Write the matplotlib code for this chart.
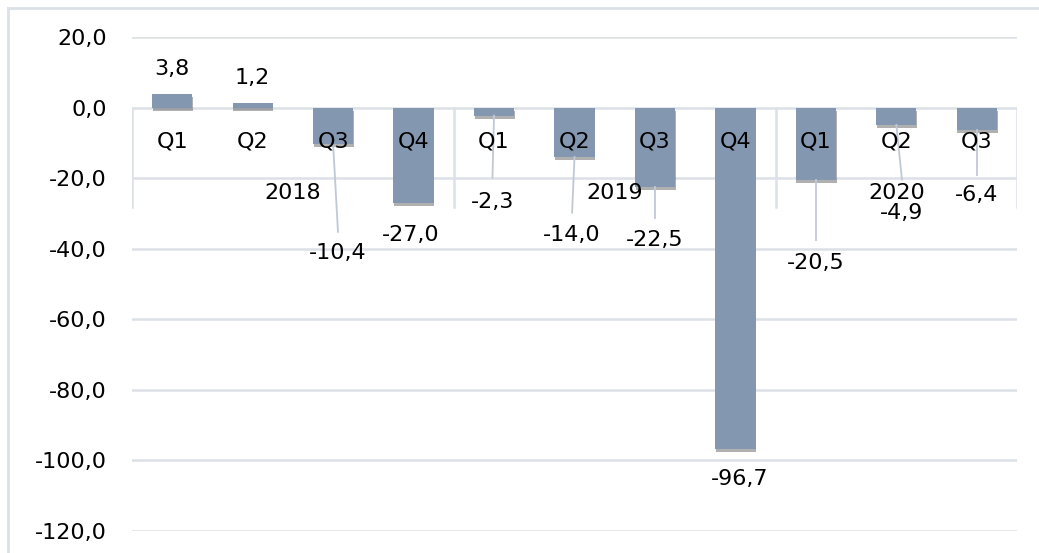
import matplotlib
matplotlib.use("Agg")
import matplotlib.pyplot as plt
import matplotlib.patheffects as pe
from matplotlib.lines import Line2D
from matplotlib.ticker import FuncFormatter, MultipleLocator

# ---- data ----
quarters = ["Q1", "Q2", "Q3", "Q4", "Q1", "Q2", "Q3", "Q4", "Q1", "Q2", "Q3"]
years = ["2018", "2019", "2020"]
year_sizes = [4, 4, 3]
values = [3.8, 1.2, -10.4, -27.0, -2.3, -14.0, -22.5, -96.7, -20.5, -4.9, -6.4]

# ---- label layout (positions of value labels; style only) ----
label_dx = [0.0, 0.0, 0.06, -0.03, -0.02, -0.03, 0.0, 0.05, 0.0, 0.07, 0.0]
label_y = [10.8, 8.5, -41.1, -36.0, -26.7, -36.0, -37.4, -105.2, -44.0, -29.8, -24.7]
leader_end = [None, None, -35.2, None, -19.9, -29.8, -31.2, None, -37.4, -20.4, -19.0]

BAR = "#8497B0"
GRID = "#DCE1E8"
LEAD = "#BFC9D6"
FS = 16
plt.rcParams["font.family"] = ["DejaVu Sans"]

fig = plt.figure(figsize=(10.39, 5.53), dpi=100)
ax = fig.add_axes([132 / 1039, 1 - 531 / 553, (1017 - 132) / 1039, (531 - 37) / 553])

# outer border (top and left edges visible)
W, H = 1039, 553
fig.add_artist(Line2D([8 / W, 1.0], [1 - 7.5 / H, 1 - 7.5 / H], transform=fig.transFigure,
                      color=GRID, lw=2))
fig.add_artist(Line2D([8 / W, 8 / W], [0, 1 - 7.5 / H], transform=fig.transFigure,
                      color=GRID, lw=2))

x = list(range(len(values)))
bars = ax.bar(x, values, width=0.5, color=BAR, zorder=3)
for b in bars:
    b.set_path_effects([pe.SimplePatchShadow(offset=(0.5, -2.2), shadow_rgbFace="#3a3a3a", alpha=0.4),
                        pe.Normal()])

ax.set_xlim(-0.5, len(values) - 0.5)
ax.set_ylim(-120, 20)
ax.yaxis.set_major_locator(MultipleLocator(20))
ax.yaxis.set_major_formatter(FuncFormatter(lambda v, p: f"{v:.1f}".replace(".", ",")))
ax.grid(axis="y", color=GRID, lw=1.8, zorder=0)
ax.set_axisbelow(True)
for s in ax.spines.values():
    s.set_visible(False)
ax.tick_params(axis="y", length=0, labelsize=FS, pad=18, colors="black")
ax.set_xticks([])

# category axis: quarter labels, group separators, year labels
for i, q in enumerate(quarters):
    ax.text(i, -9.6, q, ha="center", va="center", fontsize=FS, zorder=5)
start = 0
seps = [-0.5]
for yr, n in zip(years, year_sizes):
    ax.text(start + (n - 1) / 2, -24.1, yr, ha="center", va="center", fontsize=FS, zorder=5)
    start += n
    seps.append(start - 0.5)
for s in seps:
    ax.plot([s, s], [0, -28.3], color=GRID, lw=1.8, zorder=1)

# value labels with leader lines
for i, v in enumerate(values):
    lx = i + label_dx[i]
    txt = f"{v:.1f}".replace(".", ",")
    ax.text(lx, label_y[i], txt, ha="center", va="center", fontsize=FS, zorder=6)
    if leader_end[i] is not None:
        ax.plot([i, lx], [v, leader_end[i]], color=LEAD, lw=1.3, zorder=4)

fig.savefig("out.png", dpi=100)
